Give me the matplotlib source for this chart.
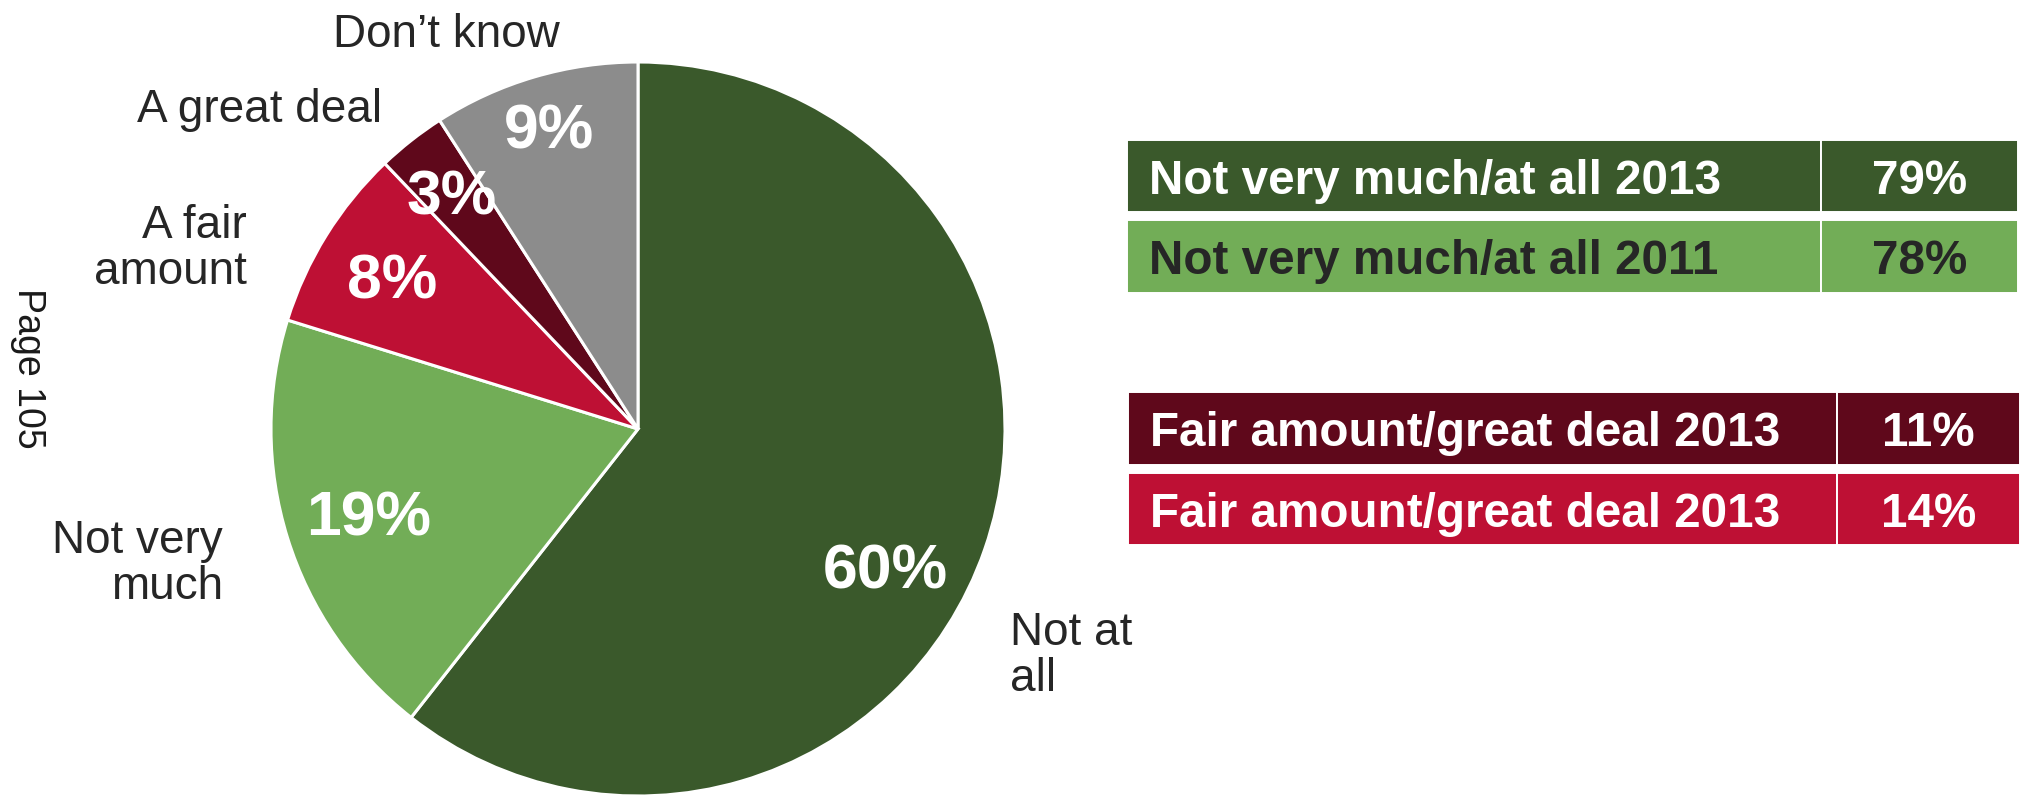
import numpy as np
import matplotlib
matplotlib.use("Agg")
import matplotlib.pyplot as plt
from matplotlib.patches import Rectangle

# --- data -----------------------------------------------------------------
categories = ["Not at\nall", "Not very\nmuch", "A fair\namount", "A great deal", "Don\u2019t know"]
values = [60, 19, 8, 3, 9]

table_labels = [
    "Not very much/at all 2013",
    "Not very much/at all 2011",
    "Fair amount/great deal 2013",
    "Fair amount/great deal 2013",
]
table_values = [79, 78, 11, 14]

# --- style ----------------------------------------------------------------
W, H = 2024, 799
DARK_GREEN = "#3A592B"
LIGHT_GREEN = "#72AD57"
RED = "#BE1034"
MAROON = "#5F081B"
GREY = "#8C8C8C"
INK = "#262626"
slice_colors = [DARK_GREEN, LIGHT_GREEN, RED, MAROON, GREY]

FONT = ["Liberation Sans", "DejaVu Sans"]
plt.rcParams["font.family"] = FONT


def Y(py):
    """Convert a top-down pixel row to the axes' bottom-up coordinate."""
    return H - py


fig = plt.figure(figsize=(W / 100, H / 100), dpi=100)
ax = fig.add_axes([0, 0, 1, 1])

# --- pie ------------------------------------------------------------------
cx, cy, R = 638, Y(429), 367
wedges, _ = ax.pie(
    values,
    colors=slice_colors,
    startangle=90,
    counterclock=False,
    center=(cx, cy),
    radius=R,
    frame=True,
    wedgeprops=dict(edgecolor="white", linewidth=2.2),
)
ax.set_xlim(0, W)
ax.set_ylim(0, H)
ax.set_aspect("equal")
ax.axis("off")

# percentage labels placed along each wedge's bisector
pct_size = 45
pct_em = pct_size * 100 / 72
label_radius = [0.77, 0.77, 0.79, 0.82, 0.86]
label_turn = [-10, 0, 0, 0, 0]
for w, v, rf, dt in zip(wedges, values, label_radius, label_turn):
    mid = np.deg2rad((w.theta1 + w.theta2) / 2 + dt)
    x = cx + rf * R * np.cos(mid)
    y = cy + rf * R * np.sin(mid)
    ax.text(x, y - 0.36 * pct_em, f"{v}%", color="white", fontsize=pct_size,
            fontweight="bold", ha="center", va="baseline")

# category names around the pie (anchor x, first baseline, alignment)
name_size = 33
line_gap = 46
name_anchor = [
    (1010, 645, "left"),
    (223, 553, "right"),
    (247, 238, "right"),
    (382, 122, "right"),
    (560, 47, "right"),
]
for name, (ax_x, base, ha) in zip(categories, name_anchor):
    for i, line in enumerate(name.split("\n")):
        ax.text(ax_x, Y(base + i * line_gap), line, color=INK,
                fontsize=name_size, ha=ha, va="baseline")

# page marker at the left margin
ax.text(28, Y(368), "Page 105", rotation=270, color="#1A1A1A", fontsize=27,
        ha="center", va="center")

# --- summary tables -------------------------------------------------------
row_fill = [DARK_GREEN, LIGHT_GREEN, MAROON, RED]
row_text = ["white", INK, "white", "white"]
row_span = [(140, 212), (220, 293), (392, 465), (473, 545)]
col_edges = [(1127, 1821, 2018), (1127, 1821, 2018), (1128, 1837, 2020), (1128, 1837, 2020)]
cell_size = 34.3

for lab, val, fill, tc, (top, bot), (x0, xd, x1) in zip(
        table_labels, table_values, row_fill, row_text, row_span, col_edges):
    for a, b in ((x0, xd), (xd, x1)):
        ax.add_patch(Rectangle((a, Y(bot)), b - a, bot - top, facecolor=fill,
                               edgecolor="white", linewidth=1.4))
    base = Y((top + bot) / 2 + 18)
    ax.text(x0 + 22, base, lab, color=tc, fontsize=cell_size, fontweight="bold",
            ha="left", va="baseline")
    ax.text((xd + x1) / 2, base, f"{val}%", color=tc, fontsize=cell_size,
            fontweight="bold", ha="center", va="baseline")

fig.savefig("out.png", dpi=100, facecolor="white")
